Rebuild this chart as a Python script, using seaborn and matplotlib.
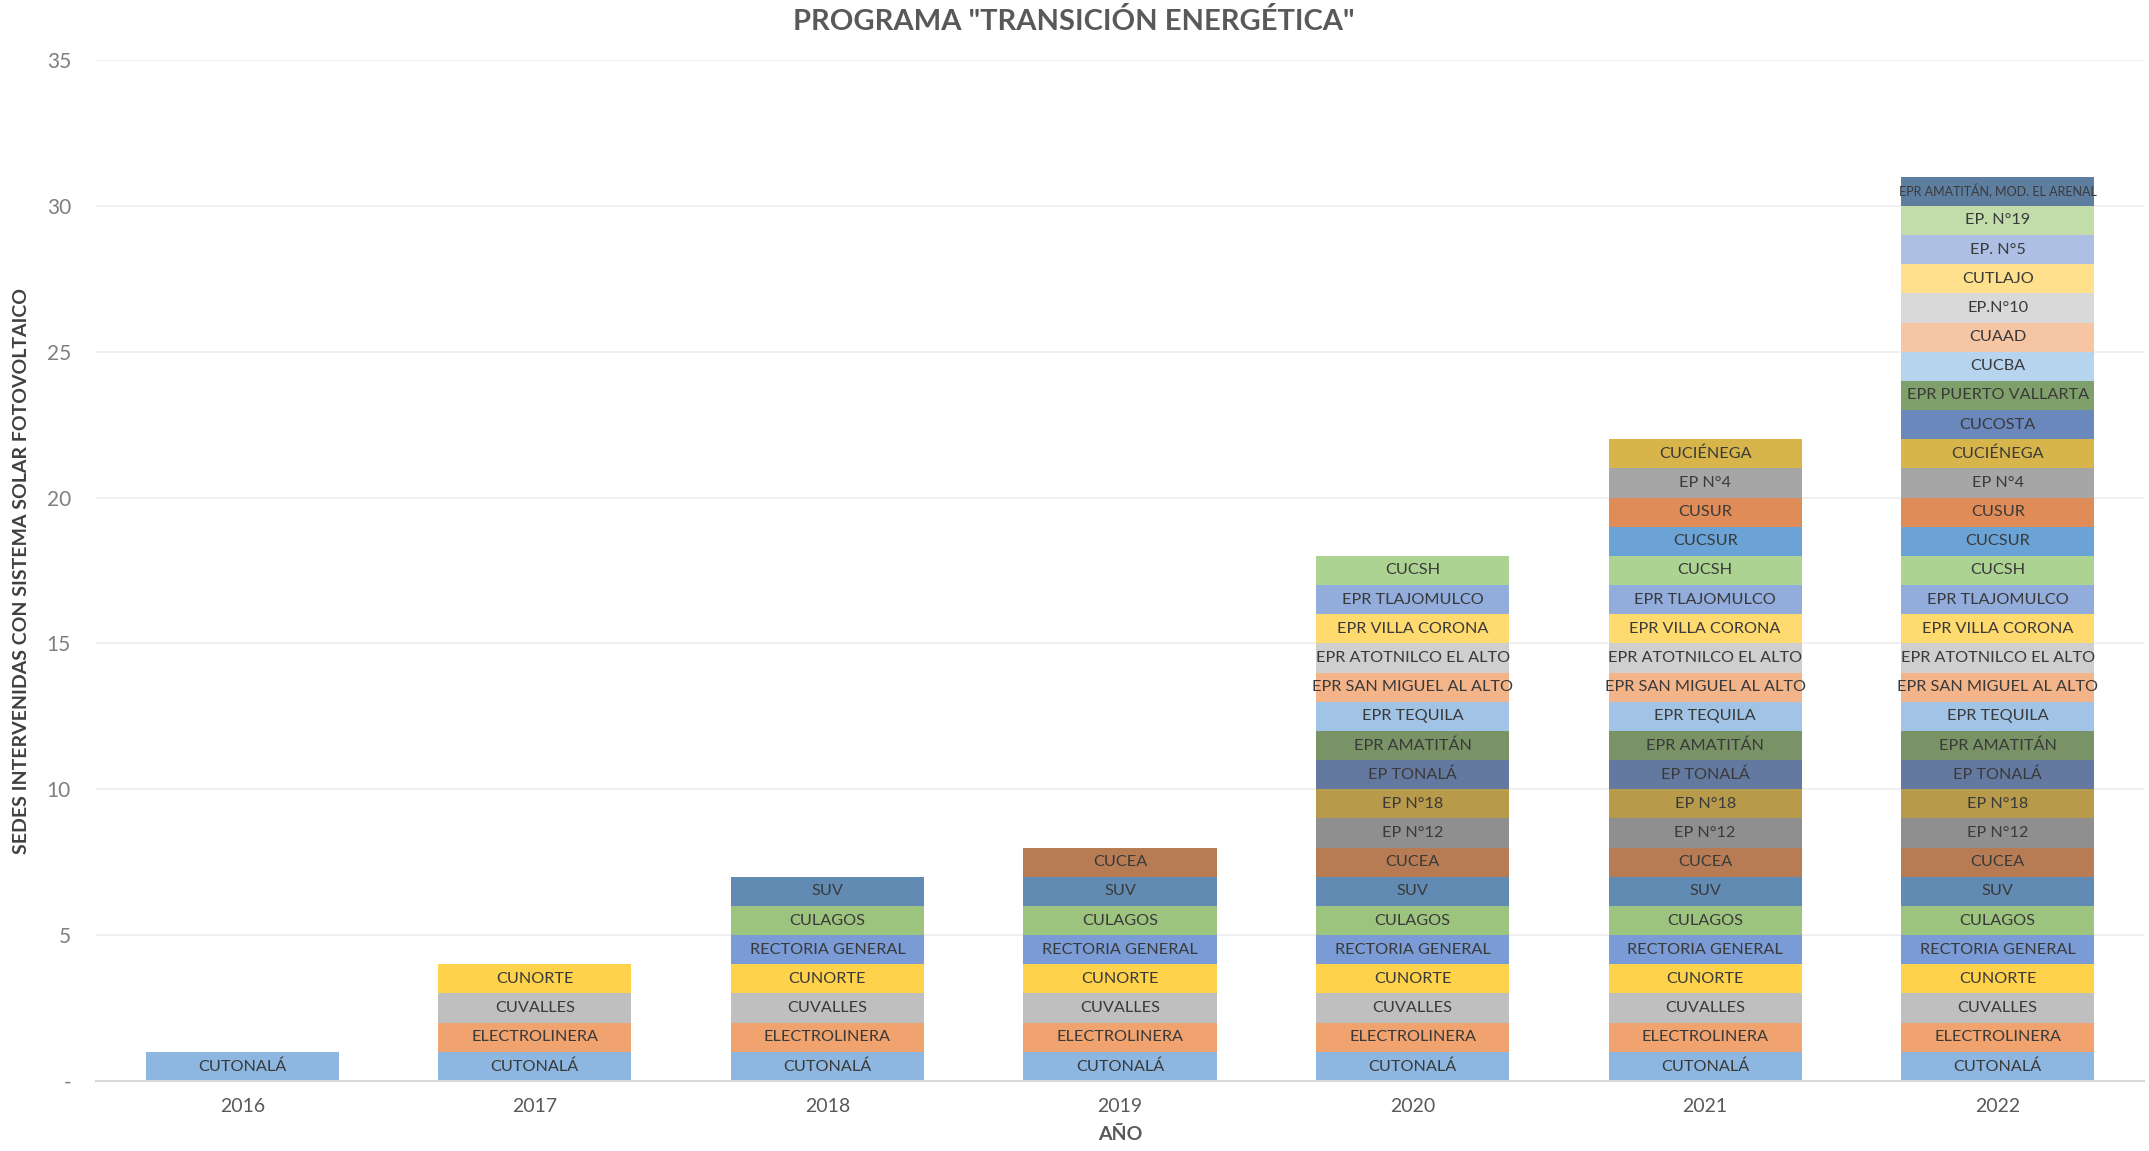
import matplotlib
matplotlib.use("Agg")
import matplotlib.pyplot as plt
import seaborn as sns
import pandas as pd

# ---- data ----
anios = ["2016", "2017", "2018", "2019", "2020", "2021", "2022"]
sedes = ["CUTONALÁ", "ELECTROLINERA", "CUVALLES", "CUNORTE", "RECTORIA GENERAL",
         "CULAGOS", "SUV", "CUCEA", "EP N°12", "EP N°18", "EP TONALÁ", "EPR AMATITÁN",
         "EPR TEQUILA", "EPR SAN MIGUEL AL ALTO", "EPR ATOTNILCO EL ALTO",
         "EPR VILLA CORONA", "EPR TLAJOMULCO", "CUCSH", "CUCSUR", "CUSUR", "EP N°4",
         "CUCIÉNEGA", "CUCOSTA", "EPR PUERTO VALLARTA", "CUCBA", "CUAAD", "EP.N°10",
         "CUTLAJO", "EP. N°5", "EP. N°19", "EPR AMATITÁN, MOD. EL ARENAL"]
anio_inicio = ["2016", "2017", "2017", "2017", "2018",
               "2018", "2018", "2019", "2020", "2020", "2020", "2020",
               "2020", "2020", "2020",
               "2020", "2020", "2020", "2021", "2021", "2021",
               "2021", "2022", "2022", "2022", "2022", "2022",
               "2022", "2022", "2022", "2022"]
colores = ["#8DB7E1", "#F0A36E", "#BFBFBF", "#FFD24B", "#7A9BD6",
           "#9DC47E", "#628BB4", "#B87C54", "#8F8F8F", "#B79A4A", "#6479A0", "#7A9366",
           "#A1C4E6", "#F3B48A", "#CFCFCF",
           "#FFDA6E", "#92ACDC", "#ADD393", "#6BA3D6", "#DF8C58", "#A6A6A6",
           "#D8B54B", "#6A88BC", "#80A06B", "#B7D4EE", "#F5C5A4", "#D9D9D9",
           "#FFE08D", "#ADBFE3", "#C2DDAA", "#5E7E9F"]

filas = []
for i, (s, a0) in enumerate(zip(sedes, anio_inicio)):
    for a in anios:
        if int(a) >= int(a0):
            filas.append({"anio": a, "sede": s, "orden": i, "valor": 1})
df = pd.DataFrame(filas)

sns.set_theme(style="white")
plt.rcParams["font.family"] = ["Lato", "DejaVu Sans"]

fig = plt.figure(figsize=(21.49, 11.51), dpi=100)
ax = fig.add_axes([96 / 2149, 1 - 1081 / 1151, (2144 - 96) / 2149, (1081 - 60) / 1151])

for i, s in enumerate(sedes):
    sub = df[df["sede"] == s]
    sns.barplot(data=sub, x="anio", y="valor", order=anios, bottom=i,
                color=colores[i], saturation=1, width=0.66, errorbar=None,
                linewidth=0, ax=ax)
    cont = ax.containers[-1]
    fs = 9 if len(s) > 24 else 11.7
    ax.bar_label(cont, labels=[s] * len(sub), label_type="center",
                 fontsize=fs, color="#3A3A3A")

ax.set_xlim(-0.5, 6.5)
ax.set_ylim(0, 35)
ax.set_yticks(range(0, 36, 5))
ax.set_yticklabels(["-"] + [str(v) for v in range(5, 36, 5)],
                   fontsize=15, color="#7F7F7F")
ax.tick_params(axis="y", length=0, pad=18)
ax.tick_params(axis="x", length=0, pad=12, labelsize=14, labelcolor="#595959")
ax.yaxis.grid(True, color="#EDEDED", linewidth=1.2)
ax.set_axisbelow(True)
for sp in ["top", "right", "left"]:
    ax.spines[sp].set_visible(False)
ax.spines["bottom"].set_color("#D9D9D9")
ax.spines["bottom"].set_linewidth(1.5)

ax.set_xlabel("AÑO", fontsize=14, fontweight="bold", color="#595959", labelpad=8)
ax.set_ylabel("SEDES INTERVENIDAS CON SISTEMA SOLAR FOTOVOLTAICO", fontsize=14,
              fontweight="bold", color="#404040")
ax.yaxis.set_label_coords(-0.032, 0.5)
fig.text(1074 / 2149, 1 - 22 / 1151, 'PROGRAMA "TRANSICIÓN ENERGÉTICA"',
         ha="center", va="center", fontsize=21, fontweight="bold", color="#595959")

fig.savefig("out.png", dpi=100)
